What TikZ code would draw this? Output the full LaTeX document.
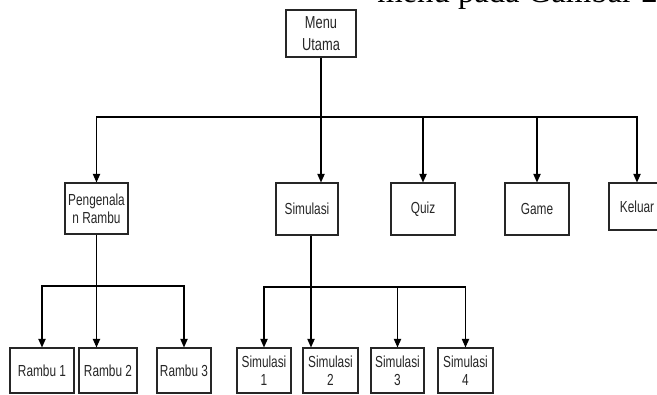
\documentclass[tikz,border=0pt]{standalone}
\usepackage{fontspec}
\setmainfont{Liberation Sans}[FakeStretch=0.74]
\newfontfamily\pageserif{Liberation Serif}
\usetikzlibrary{arrows.meta}

\begin{document}
\begin{tikzpicture}[x=0.75pt, y=-0.75pt,
    box/.style={draw=black!85, line width=0.8pt, align=center, inner sep=1pt,
      text=black!85, font=\fontsize{12}{13.5}\selectfont},
    arr/.style={line width=0.9pt, -{Triangle[width=5.5pt, length=6.5pt]}}]
  \useasboundingbox (0, 0) rectangle (657, 394);
  \clip (0, 0) rectangle (657, 394);
  % text of the page above the chart
  \node[anchor=base west, inner sep=0pt, font=\pageserif\fontsize{24.5}{26}\selectfont] (pagetext) at (377, 2.5) {menu pada Gambar 2.};
  % nodes
  \node[box, minimum width=52.5pt, minimum height=35.25pt, font=\fontsize{13}{16.5}\selectfont] (menu) at (321, 33.5) {Menu\\Utama};
  \node[box, minimum width=47.25pt, minimum height=38.25pt] (pengenalan) at (96.5, 208.5) {Pengenala\\n Rambu};
  \node[box, minimum width=46.5pt, minimum height=39pt] (simulasi) at (307, 209) {Simulasi};
  \node[box, minimum width=48pt, minimum height=39pt] (quiz) at (423, 209) {Quiz};
  \node[box, minimum width=48pt, minimum height=39pt] (game) at (537, 209) {Game};
  \node[box, minimum width=42pt, minimum height=35.25pt] (keluar) at (637, 206.5) {Keluar};
  \node[box, minimum width=48pt, minimum height=33.75pt] (rambu1) at (42, 370.5) {Rambu 1};
  \node[box, minimum width=43.5pt, minimum height=33.75pt] (rambu2) at (108, 370.5) {Rambu 2};
  \node[box, minimum width=40.5pt, minimum height=33.75pt] (rambu3) at (184, 370.5) {Rambu 3};
  \node[box, minimum width=40.5pt, minimum height=33.75pt] (sim1) at (264, 370.5) {Simulasi\\1};
  \node[box, minimum width=41.25pt, minimum height=33.75pt] (sim2) at (330.5, 370.5) {Simulasi\\2};
  \node[box, minimum width=39.75pt, minimum height=33.75pt] (sim3) at (397.5, 370.5) {Simulasi\\3};
  \node[box, minimum width=41.25pt, minimum height=33.75pt] (sim4) at (465.5, 370.5) {Simulasi\\4};
  % lines
  \coordinate (bus) at (321, 117);
  \draw[line width=0.9pt] (menu.south) -- (bus);
  \draw[arr] (bus) -| (pengenalan.north);
  \draw[arr] (bus) -- (bus |- simulasi.north);
  \draw[arr] (bus) -| (quiz.north);
  \draw[arr] (bus) -| (game.north);
  \draw[arr] (bus) -| (keluar.north);
  \coordinate (rbus) at (96.5, 286);
  \draw[arr] (pengenalan.south) -- (pengenalan.south |- rambu2.north);
  \draw[arr] (rbus) -| (rambu1.north);
  \draw[arr] (rbus) -| (rambu3.north);
  \coordinate (sbus) at (311, 287);
  \draw[arr] (simulasi.south -| sbus) -- (sbus |- sim2.north);
  \draw[arr] (sbus) -| (sim1.north);
  \draw[arr] (sbus) -| (sim3.north);
  \draw[arr] (sbus) -| (sim4.north);
\end{tikzpicture}
\end{document}
